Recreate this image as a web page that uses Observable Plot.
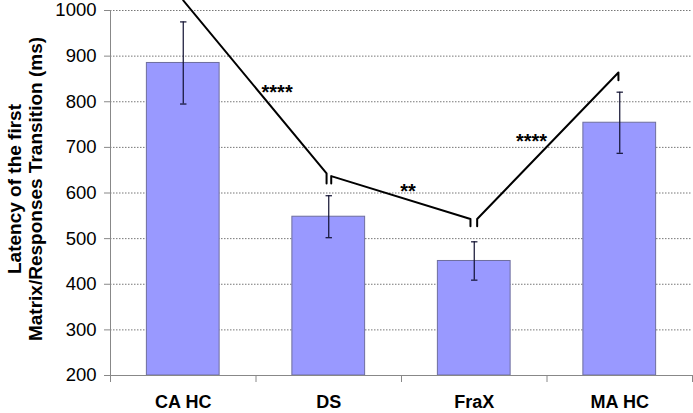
<!DOCTYPE html>
<html>
<head>
<meta charset="utf-8">
<script src="https://cdn.jsdelivr.net/npm/d3@7"></script>
<script src="https://cdn.jsdelivr.net/npm/@observablehq/plot@0.6"></script>
<style>
  html, body { margin: 0; padding: 0; background: #fff; }
  svg { display: block; }
</style>
</head>
<body>
<div id="chart"></div>
<script>
// ---- data ----
const categories = ["CA HC", "DS", "FraX", "MA HC"];
const means = [885, 548, 451, 754];
const errors = [90, 46, 42, 67];
const yTicks = [200, 300, 400, 500, 600, 700, 800, 900, 1000];
const yLabelLines = ["Latency of the first", "Matrix/Responses Transition (ms)"];

// significance annotation paths (x in category units, y in ms)
const sigPathId = ["a", "a", "a", "b", "b", "b", "b", "c", "c", "c", "c"];
const sigPathX  = [0.50, 1.485, 1.485, 1.517, 1.517, 2.474, 2.474, 2.520, 2.520, 3.491, 3.491];
const sigPathY  = [1022, 643, 621, 621, 637, 543, 527, 527, 543, 864, 847];
const sigLabels = ["****", "**", "****"];
const sigLabelX = [1.145, 2.045, 2.894];
const sigLabelY = [820, 602, 712];

// ---- build tables ----
const bars = categories.map((c, i) => ({cat: c, i, mean: means[i], err: errors[i]}));
const sigPath = sigPathId.map((id, k) => ({id, x: sigPathX[k], y: sigPathY[k]}));
const sigText = sigLabels.map((t, k) => ({t, x: sigLabelX[k], y: sigLabelY[k]}));

const FS = 18.5;
const chart = Plot.plot({
  width: 693,
  height: 413,
  marginLeft: 110,
  marginRight: 1,
  marginTop: 10,
  marginBottom: 38,
  style: {fontFamily: "'Liberation Sans', Arial, sans-serif", background: "#fff", color: "#000", overflow: "visible"},
  x: {domain: [0, categories.length], axis: null},
  y: {domain: [200, 1000], axis: null},
  marks: [
    Plot.gridY(yTicks.slice(1), {stroke: "#777", strokeOpacity: 1, strokeDasharray: "1.5,1.5"}),
    Plot.rectY(bars, {x1: d => d.i + 0.25, x2: d => d.i + 0.75, y1: 200, y2: "mean", fill: "#9999ff", stroke: "#6e6e9e", strokeWidth: 1}),
    Plot.ruleX(bars, {x: d => d.i + 0.5, y1: d => d.mean - d.err, y2: d => d.mean + d.err, stroke: "#101030", strokeWidth: 1.2}),
    Plot.link(bars, {x1: d => d.i + 0.478, x2: d => d.i + 0.522, y1: d => d.mean + d.err, y2: d => d.mean + d.err, stroke: "#101030", strokeWidth: 1.2}),
    Plot.link(bars, {x1: d => d.i + 0.478, x2: d => d.i + 0.522, y1: d => d.mean - d.err, y2: d => d.mean - d.err, stroke: "#101030", strokeWidth: 1.2}),
    Plot.ruleX([0], {stroke: "#888"}),
    Plot.ruleY([200], {stroke: "#888"}),
    Plot.axisY({ticks: yTicks, tickFormat: d => String(d), tickSize: 6, tickPadding: 8, fontSize: FS, stroke: "#888", color: "#000", label: null}),
    Plot.axisX({ticks: [0, 1, 2, 3, 4], tickSize: 7, tickFormat: () => "", stroke: "#888", label: null}),
    Plot.axisX({ticks: categories.map((c, i) => i + 0.5), tickFormat: d => categories[Math.floor(d)], tickSize: 0, tickPadding: 20, fontSize: 18, fontWeight: "bold", label: null}),
    Plot.line(sigPath, {x: "x", y: "y", z: "id", stroke: "#000", strokeWidth: 2}),
    Plot.text(sigText, {x: "x", y: "y", text: "t", fontSize: 20, fontWeight: "bold", fill: "#000"}),
    Plot.text([yLabelLines.join("\n")], {text: d => d, frameAnchor: "left", dx: -86, dy: -4, rotate: -90, textAnchor: "middle", lineAnchor: "middle", lineHeight: 1.1, fontSize: 19, fontWeight: "bold", fill: "#000"})
  ]
});
document.getElementById("chart").appendChild(chart);
</script>
</body>
</html>
